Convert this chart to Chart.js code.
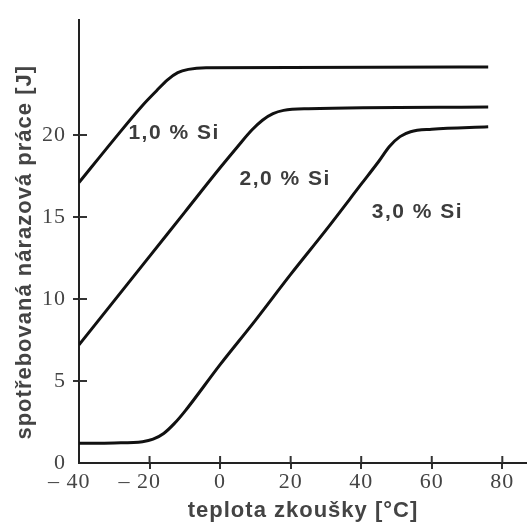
<!DOCTYPE html>
<html>
<head>
<meta charset="utf-8">
<script src="https://cdn.jsdelivr.net/npm/chart.js@4.4.1/dist/chart.umd.min.js"></script>
<style>
  html, body { margin: 0; padding: 0; background: #fff; }
  #wrap { width: 527px; height: 524px; }
</style>
</head>
<body>
<div id="wrap"><canvas id="chart" width="527" height="524"></canvas></div>
<script>
// temperature [°C] / absorbed energy [J]
const tempSi1 = [-40, -30, -22, -18, -15, -12, -9, -4, 76];
const energySi1 = [17.1, 19.75, 21.8, 22.7, 23.35, 23.8, 24.0, 24.1, 24.15];

const tempSi2 = [-40, -30, -20, -10, 0, 5, 9, 12, 15, 18, 25, 76];
const energySi2 = [7.2, 9.9, 12.6, 15.3, 18.0, 19.3, 20.3, 20.9, 21.3, 21.5, 21.6, 21.7];

const tempSi3 = [-40, -30, -22, -19, -16, -13, -10, 0, 10, 20, 30, 40, 45, 48, 51, 54, 60, 76];
const energySi3 = [1.2, 1.22, 1.3, 1.45, 1.8, 2.4, 3.15, 6.0, 8.7, 11.5, 14.2, 17.0, 18.4, 19.3, 19.9, 20.2, 20.35, 20.5];

const xTicks = [-40, -20, 0, 20, 40, 60, 80];
const xTickLabels = ['– 40\u00a0\u00a0\u00a0', '– 20\u00a0\u00a0\u00a0', '0', '20', '40', '60', '80'];
const yTicks = [0, 5, 10, 15, 20];
const yTickLabels = ['0', '5', '10', '15', '20'];

const curveNames = ['1,0 % Si', '2,0 % Si', '3,0 % Si'];

const ink = '#111';
const textGray = '#444';

function pairs(xs, ys) {
    return xs.map((x, i) => ({ x: x, y: ys[i] }));
}

// where the curve names sit, in data units
const namePlaces = [
    { x: -26, y: 20.1 },
    { x: 5.5, y: 17.3 },
    { x: 43, y: 15.3 }
];

const extras = {
    id: 'extras',
    beforeDraw(chart) {
        chart.ctx.letterSpacing = '1px';
    },
    afterDraw(chart) {
        const { ctx, chartArea, scales } = chart;
        const x = scales.x, y = scales.y;
        ctx.save();
        // tick marks also poke into the plot
        ctx.strokeStyle = '#333';
        ctx.lineWidth = 2;
        ctx.beginPath();
        x.ticks.forEach(t => {
            if (t.value === xTicks[0]) return;
            const px = x.getPixelForValue(t.value);
            ctx.moveTo(px, chartArea.bottom);
            ctx.lineTo(px, chartArea.bottom - 7);
        });
        y.ticks.forEach(t => {
            if (t.value === yTicks[0]) return;
            const py = y.getPixelForValue(t.value);
            ctx.moveTo(chartArea.left, py);
            ctx.lineTo(chartArea.left + 8, py);
        });
        ctx.stroke();

        ctx.letterSpacing = '1.5px';
        ctx.font = 'bold 21px "Liberation Sans", Arial, sans-serif';
        ctx.fillStyle = '#3c3c3c';
        ctx.textAlign = 'left';
        ctx.textBaseline = 'middle';
        curveNames.forEach((name, i) => {
            const p = namePlaces[i];
            ctx.fillText(name, x.getPixelForValue(p.x), y.getPixelForValue(p.y));
        });
        ctx.restore();
    }
};

const lineStyle = {
    borderColor: ink,
    borderWidth: 3,
    pointRadius: 0,
    fill: false,
    cubicInterpolationMode: 'monotone'
};

new Chart(document.getElementById('chart'), {
    type: 'line',
    data: {
        datasets: [
            Object.assign({ label: curveNames[0], data: pairs(tempSi1, energySi1) }, lineStyle),
            Object.assign({ label: curveNames[1], data: pairs(tempSi2, energySi2) }, lineStyle),
            Object.assign({ label: curveNames[2], data: pairs(tempSi3, energySi3) }, lineStyle)
        ]
    },
    options: {
        responsive: false,
        animation: false,
        layout: { padding: { top: 13, right: 0, bottom: 0, left: 0 } },
        plugins: {
            legend: { display: false },
            tooltip: { enabled: false }
        },
        scales: {
            x: {
                type: 'linear',
                min: -40,
                max: 87,
                afterBuildTicks: scale => { scale.ticks = xTicks.map(v => ({ value: v })); },
                afterFit: scale => { scale.height = 61; },
                ticks: {
                    callback: (v, i) => xTickLabels[i],
                    color: textGray,
                    padding: 0,
                    maxRotation: 0,
                    font: { family: '"Liberation Serif", "Times New Roman", serif', size: 22 }
                },
                grid: {
                    drawOnChartArea: false,
                    tickLength: 6,
                    lineWidth: 2,
                    color: c => (c.tick && c.tick.value === xTicks[0]) ? 'rgba(0,0,0,0)' : '#333'
                },
                border: { display: true, color: '#222', width: 2 },
                title: {
                    display: true,
                    text: 'teplota zkoušky [°C]',
                    color: textGray,
                    padding: { top: 0, bottom: 0 },
                    font: { family: '"Liberation Sans", Arial, sans-serif', size: 22, weight: 'bold' }
                }
            },
            y: {
                min: 0,
                max: 27,
                afterBuildTicks: scale => { scale.ticks = yTicks.map(v => ({ value: v })); },
                afterFit: scale => { scale.width = 79; },
                ticks: {
                    callback: (v, i) => yTickLabels[i],
                    color: textGray,
                    padding: 7,
                    font: { family: '"Liberation Serif", "Times New Roman", serif', size: 22 }
                },
                grid: {
                    drawOnChartArea: false,
                    tickLength: 6,
                    lineWidth: 2,
                    color: c => (c.tick && c.tick.value === yTicks[0]) ? 'rgba(0,0,0,0)' : '#333'
                },
                border: { display: true, color: '#222', width: 2 },
                title: {
                    display: true,
                    text: 'spotřebovaná nárazová práce [J]\u00a0\u00a0\u00a0',
                    color: textGray,
                    padding: { top: 12, bottom: 0 },
                    font: { family: '"Liberation Sans", Arial, sans-serif', size: 22, weight: 'bold' }
                }
            }
        }
    },
    plugins: [extras]
});
</script>
</body>
</html>
